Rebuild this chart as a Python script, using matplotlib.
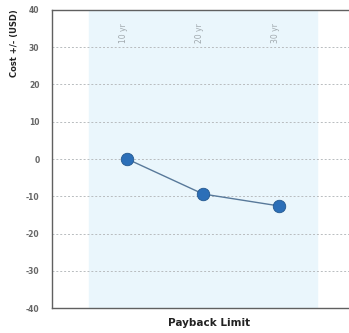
import matplotlib
matplotlib.use('Agg')
import matplotlib.pyplot as plt

# payback limit categories and cost change
categories = ['10 yr', '20 yr', '30 yr']
cost_change = [0.0, -9.4, -12.6]
y_ticks = [-40, -30, -20, -10, 0, 10, 20, 30, 40]

plt.rcParams['font.family'] = ['Liberation Sans Narrow', 'DejaVu Sans']

fig = plt.figure(figsize=(3.49, 3.33), dpi=100)
ax = fig.add_axes([0.149, 0.075, 0.851, 0.895])

x = list(range(len(categories)))

# shaded band behind the categories
ax.axvspan(-0.5, len(categories) - 0.5, color='#eaf6fc', zorder=0)

for t in y_ticks[1:-1]:
	ax.axhline(t, color='#b8bcbf', lw=0.7, ls=(0, (2, 2)), zorder=1)

ax.plot(x, cost_change, '-', color='#58799a', lw=1.0, zorder=2)
ax.plot(x, cost_change, 'o', color='#2c6fb8', markeredgecolor='#24588f',
		markeredgewidth=0.6, markersize=9, zorder=3)

# category labels drawn rotated near the top
for xi, lab in zip(x, categories):
	ax.text(xi - 0.05, 36.5, lab, rotation=90, ha='center', va='top',
			fontsize=5.5, color='#a0a8ad')

ax.set_xlim(-0.99, 2.92)
ax.set_ylim(-40, 40)
ax.set_yticks(y_ticks)
ax.set_yticklabels([str(t) for t in y_ticks], fontsize=5.5, fontweight='bold', color='#666666')
ax.set_xticks([])

for side in ['left', 'bottom', 'top']:
	ax.spines[side].set_color('#606060')
	ax.spines[side].set_linewidth(1.0)
ax.spines['right'].set_visible(False)
ax.tick_params(axis='y', length=0, pad=9)

ax.set_ylabel('Cost +/- (USD)', fontsize=6, fontweight='bold', color='#222222')
ax.yaxis.set_label_coords(-0.11, 0.89)
ax.set_xlabel('Payback Limit', fontsize=7.5, fontweight='bold', color='#222222')
ax.xaxis.set_label_coords(0.53, -0.035)

fig.savefig('out.png', dpi=100)
